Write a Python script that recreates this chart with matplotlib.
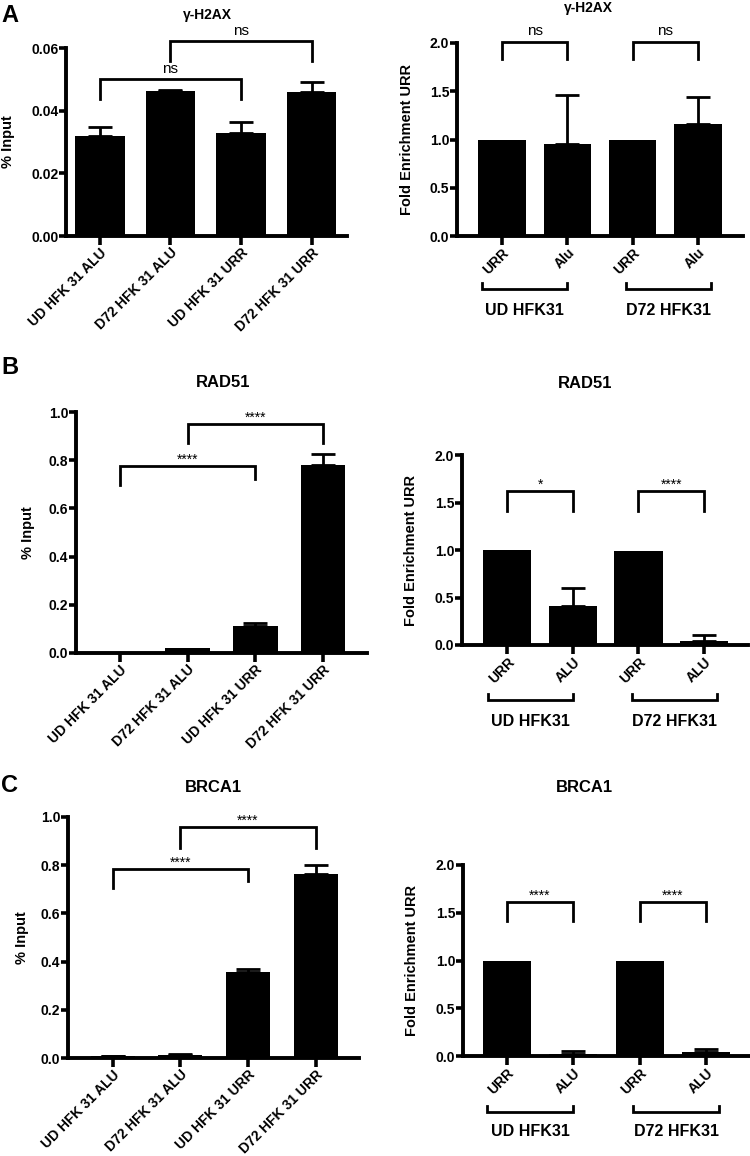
import matplotlib
matplotlib.use("Agg")
import matplotlib.pyplot as plt

plt.rcParams['font.family'] = ['Liberation Sans', 'DejaVu Sans']
plt.rcParams['font.weight'] = 'bold'

# ---------------- data ----------------
left_labels = ["UD HFK 31 ALU", "D72 HFK 31 ALU", "UD HFK 31 URR", "D72 HFK 31 URR"]
right_labels_h2ax = ["URR", "Alu", "URR", "Alu"]
right_labels = ["URR", "ALU", "URR", "ALU"]
group_labels = ["UD HFK31", "D72 HFK31"]

h2ax_input = [0.0319, 0.0463, 0.0330, 0.0460]
h2ax_input_err = [0.0030, 0.0002, 0.0035, 0.0030]
h2ax_fold = [1.00, 0.953, 0.99, 1.157]
h2ax_fold_err = [0.0, 0.505, 0.0, 0.286]

rad51_input = [0.002, 0.021, 0.114, 0.781]
rad51_input_err = [0.0, 0.0, 0.010, 0.043]
rad51_fold = [1.00, 0.41, 0.99, 0.045]
rad51_fold_err = [0.0, 0.193, 0.0, 0.060]

brca1_input = [0.008, 0.014, 0.356, 0.764]
brca1_input_err = [0.002, 0.001, 0.014, 0.036]
brca1_fold = [1.00, 0.02, 0.99, 0.04]
brca1_fold_err = [0.0, 0.030, 0.0, 0.030]

# significance comparisons: (i, j, text, top, leg_i, leg_j)
h2ax_input_sig = [(0, 2, "ns", 0.0502, 0.0437, 0.0437), (1, 3, "ns", 0.0623, 0.0558, 0.0558)]
h2ax_fold_sig = [(0, 1, "ns", 2.01, 1.83, 1.83), (2, 3, "ns", 2.01, 1.83, 1.83)]
rad51_input_sig = [(0, 2, "****", 0.778, 0.698, 0.723), (1, 3, "****", 0.950, 0.871, 0.871)]
rad51_fold_sig = [(0, 1, "*", 1.62, 1.41, 1.41), (2, 3, "****", 1.62, 1.41, 1.41)]
brca1_input_sig = [(0, 2, "****", 0.785, 0.706, 0.734), (1, 3, "****", 0.957, 0.872, 0.872)]
brca1_fold_sig = [(0, 1, "****", 1.616, 1.41, 1.41), (2, 3, "****", 1.616, 1.41, 1.41)]

W, H = 750, 1156
fig = plt.figure(figsize=(W / 100, H / 100), dpi=100)


def make_ax(x0, x1, ytop, ybot):
    return fig.add_axes([x0 / W, 1 - ybot / H, (x1 - x0) / W, (ybot - ytop) / H])


def style(ax, ylim, yticks, xlim, ylabel, lab_x):
    ax.set_ylim(*ylim)
    ax.set_xlim(*xlim)
    ax.set_yticks(yticks)
    for s in ['top', 'right']:
        ax.spines[s].set_visible(False)
    for s in ['left', 'bottom']:
        ax.spines[s].set_linewidth(2.8)
        ax.spines[s].set_capstyle('projecting')
    ax.tick_params(axis='y', direction='out', length=5, width=2.6, pad=0.5, labelsize=10)
    ax.tick_params(axis='x', direction='out', length=6.5, width=2.6, pad=0.5, labelsize=10)
    for lab in ax.get_yticklabels():
        lab.set_fontweight('bold')
    ax.set_ylabel(ylabel, fontsize=10.5, fontweight='bold')
    ax.yaxis.set_label_coords(lab_x, 0.5)


def bars(ax, vals, errs, width, xlabels):
    x = list(range(len(vals)))
    ax.bar(x, vals, width=width, color='black', zorder=2)
    ex = [xi for xi, e in zip(x, errs) if e > 0]
    ev = [v for v, e in zip(vals, errs) if e > 0]
    ee = [e for e in errs if e > 0]
    if ex:
        ax.errorbar(ex, ev, yerr=[[0] * len(ee), ee], fmt='none', ecolor='black',
                    elinewidth=2, capsize=8.5, capthick=2, zorder=1)
    ax.set_xticks(x)
    ax.set_xticklabels(xlabels, rotation=45, ha='right', rotation_mode='anchor',
                       fontsize=9.5, fontweight='bold')


def sig(ax, comps, off, fs):
    for i, j, txt, top, li, lj in comps:
        ax.plot([i, i, j, j], [li, top, top, lj], color='black', lw=2, clip_on=False,
                solid_joinstyle='miter', zorder=3)
        ax.annotate(txt, xy=((i + j) / 2, top), xytext=(0, off), textcoords='offset points',
                    ha='center', va='baseline', fontsize=fs, fontweight='normal',
                    annotation_clip=False)


def groups(ax, yb, ytxt):
    tr = ax.get_xaxis_transform()
    spans = [(-0.3, 1.0), (1.9, 3.2)]
    for (a, b), g in zip(spans, group_labels):
        ax.plot([a, a, b, b], [yb + 0.03, yb, yb, yb + 0.03], transform=tr, color='black',
                lw=2, clip_on=False, solid_joinstyle='miter')
        ax.text((a + b) / 2, ytxt, g, transform=tr, ha='center', va='center',
                fontsize=11.5, fontweight='bold')


# ---------- A left ----------
ax = make_ax(66, 347, 48, 236)
bars(ax, h2ax_input, h2ax_input_err, 0.70, left_labels)
style(ax, (0, 0.06), [0, 0.02, 0.04, 0.06], (-0.48, 3.5), "% Input", -0.181)
ax.set_yticklabels(["0.00", "0.02", "0.04", "0.06"], fontweight='bold')
sig(ax, h2ax_input_sig, 4, 11)

# ---------- A right ----------
ax = make_ax(457, 743, 43, 236)
bars(ax, h2ax_fold, h2ax_fold_err, 0.73, right_labels_h2ax)
style(ax, (0, 2.0), [0, 0.5, 1.0, 1.5, 2.0], (-0.69, 3.69), "Fold Enrichment URR", -0.150)
ax.set_yticklabels(["0.0", "0.5", "1.0", "1.5", "2.0"], fontweight='bold')
sig(ax, h2ax_fold_sig, 5, 11)
groups(ax, -0.275, -0.385)

# ---------- B left ----------
ax = make_ax(76, 367, 412, 653)
bars(ax, rad51_input, rad51_input_err, 0.66, left_labels)
style(ax, (0, 1.0), [0, 0.2, 0.4, 0.6, 0.8, 1.0], (-0.65, 3.65), "% Input", -0.141)
ax.set_yticklabels(["0.0", "0.2", "0.4", "0.6", "0.8", "1.0"], fontweight='bold')
sig(ax, rad51_input_sig, 1.5, 10)

# ---------- B right ----------
ax = make_ax(462, 748, 455, 645)
bars(ax, rad51_fold, rad51_fold_err, 0.735, right_labels)
style(ax, (0, 2.0), [0, 0.5, 1.0, 1.5, 2.0], (-0.69, 3.67), "Fold Enrichment URR", -0.154)
ax.set_yticklabels(["0.0", "0.5", "1.0", "1.5", "2.0"], fontweight='bold')
sig(ax, rad51_fold_sig, 1.5, 10)
groups(ax, -0.289, -0.40)

# ---------- C left ----------
ax = make_ax(68, 359, 817, 1058)
bars(ax, brca1_input, brca1_input_err, 0.65, left_labels)
style(ax, (0, 1.0), [0, 0.2, 0.4, 0.6, 0.8, 1.0], (-0.66, 3.64), "% Input", -0.134)
ax.set_yticklabels(["0.0", "0.2", "0.4", "0.6", "0.8", "1.0"], fontweight='bold')
sig(ax, brca1_input_sig, 1.5, 10)

# ---------- C right ----------
ax = make_ax(463, 750, 865, 1056)
bars(ax, brca1_fold, brca1_fold_err, 0.72, right_labels)
style(ax, (0, 2.0), [0, 0.5, 1.0, 1.5, 2.0], (-0.66, 3.66), "Fold Enrichment URR", -0.153)
ax.set_yticklabels(["0.0", "0.5", "1.0", "1.5", "2.0"], fontweight='bold')
sig(ax, brca1_fold_sig, 1.5, 10)
groups(ax, -0.292, -0.396)

# ---------- titles & panel letters ----------
def ftxt(x, y, s, fs, ha='center'):
    fig.text(x / W, 1 - y / H, s, ha=ha, va='center', fontsize=fs, fontweight='bold')

ftxt(207, 15, "γ-H2AX", 10)
ftxt(588, 8, "γ-H2AX", 10)
ftxt(223, 382, "RAD51", 12)
ftxt(585, 383, "RAD51", 12)
ftxt(213, 788, "BRCA1", 12)
ftxt(584, 788, "BRCA1", 12)
ftxt(1, 15, "A", 17, ha='left')
ftxt(1, 368, "B", 17, ha='left')
ftxt(1, 786, "C", 17, ha='left')

fig.savefig("out.png", dpi=100)
